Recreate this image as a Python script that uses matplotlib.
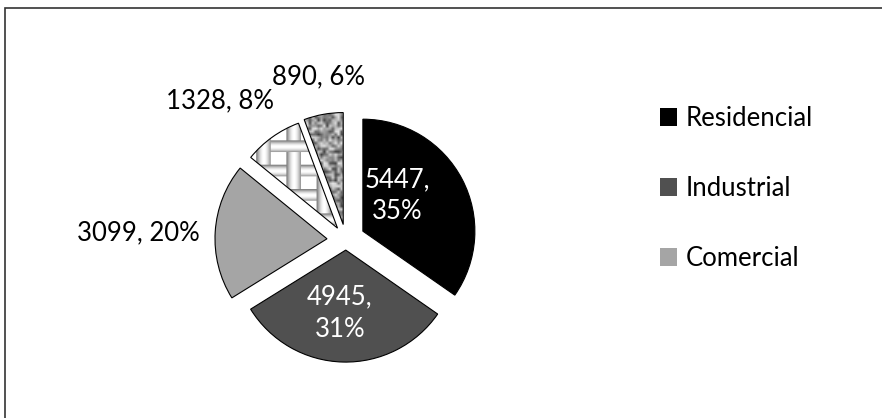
import numpy as np
import matplotlib.pyplot as plt
from matplotlib.patches import Patch, Rectangle

plt.rcParams['font.family'] = ['Lato', 'DejaVu Sans']

# consumo por classe
values = [5447, 4945, 3099, 1328, 890]
legend_labels = ["Residencial", "Industrial", "Comercial"]
colors = ["#000000", "#505050", "#a5a5a5", "white", "#8a8a8a"]
explode = [0.17, 0.09, 0.17, 0.13, 0.14]

total = sum(values)
pcts = [round(v / total * 100) for v in values]

fig = plt.figure(figsize=(8.82, 4.18), dpi=100)
ax = fig.add_axes([0, 0, 1, 1])

wedges, _ = ax.pie(values, colors=colors, startangle=90, counterclock=False,
                   explode=explode, radius=1,
                   wedgeprops=dict(edgecolor="black", linewidth=0.8))


def weave(n):
    # woven bars with cylinder shading on white
    u, v = np.meshgrid(np.arange(n), np.arange(n))
    px, py = 31, 25
    wv, wh = 15, 12
    tv = (u % px) / wv
    th = (v % py) / wh
    vert = tv < 1
    hori = th < 1
    sv = 0.5 + 0.5 * np.sin(np.pi * np.clip(tv, 0, 1))
    sh = 0.5 + 0.5 * np.sin(np.pi * np.clip(th, 0, 1))
    img = np.ones((n, n))
    img[hori] = sh[hori]
    img[vert] = sv[vert]
    cross = vert & hori
    top = ((u // px + v // py) % 2) == 0
    img[cross & ~top] = sh[cross & ~top]
    return img


def granite(n, cell=3):
    m = n // cell + 2
    i, j = np.meshgrid(np.arange(m), np.arange(m))
    h = np.sin(i * 12.9898 + j * 78.233) * 43758.5453
    h = h - np.floor(h)
    return 0.25 + 0.65 * h


textures = {3: weave(230), 4: granite(230)}
for idx, tex in textures.items():
    w = wedges[idx]
    w.set_facecolor("none")
    cx, cy = w.center
    r = w.r
    im = ax.imshow(tex, cmap="gray", vmin=0, vmax=1, interpolation="bilinear",
                   extent=[cx - r, cx + r, cy - r, cy + r], zorder=0.5)
    im.set_clip_path(w)

# rótulos: valor, percentual
label_pos = [(0.455, 0.393), (-0.054, -0.652), (-1.857, 0.0625),
             (-1.125, 1.241), (-0.25, 1.455)]
inside = [True, True, False, False, False]
for v, p, (x, y), ins in zip(values, pcts, label_pos, inside):
    if ins:
        ax.text(x, y, f"{v},\n{p}%", ha="center", va="center", fontsize=18.5,
                color="white", linespacing=1.35, multialignment="center")
    else:
        ax.text(x, y, f"{v}, {p}%", ha="center", va="center", fontsize=18.5,
                color="black")

ax.set_aspect("equal")
ax.set_xlim(-346 / 112, (882 - 346) / 112)
ax.set_ylim(-(418 - 240) / 112, 240 / 112)
ax.axis("off")

handles = [Patch(facecolor=c, edgecolor="none") for c in colors[:3]]
fig.legend(handles, legend_labels, loc="upper left",
           bbox_to_anchor=(660 / 882, 1 - 106 / 418), frameon=False,
           fontsize=18.5, handlelength=0.68, handleheight=0.68,
           handletextpad=0.32, labelspacing=1.75, borderpad=0,
           borderaxespad=0)

fig.add_artist(Rectangle((5 / 882, -0.1), 1.2, 1.1 - 8 / 418,
                         transform=fig.transFigure, fill=False,
                         edgecolor="#333333", linewidth=1.2))

fig.savefig("out.png", dpi=100)
